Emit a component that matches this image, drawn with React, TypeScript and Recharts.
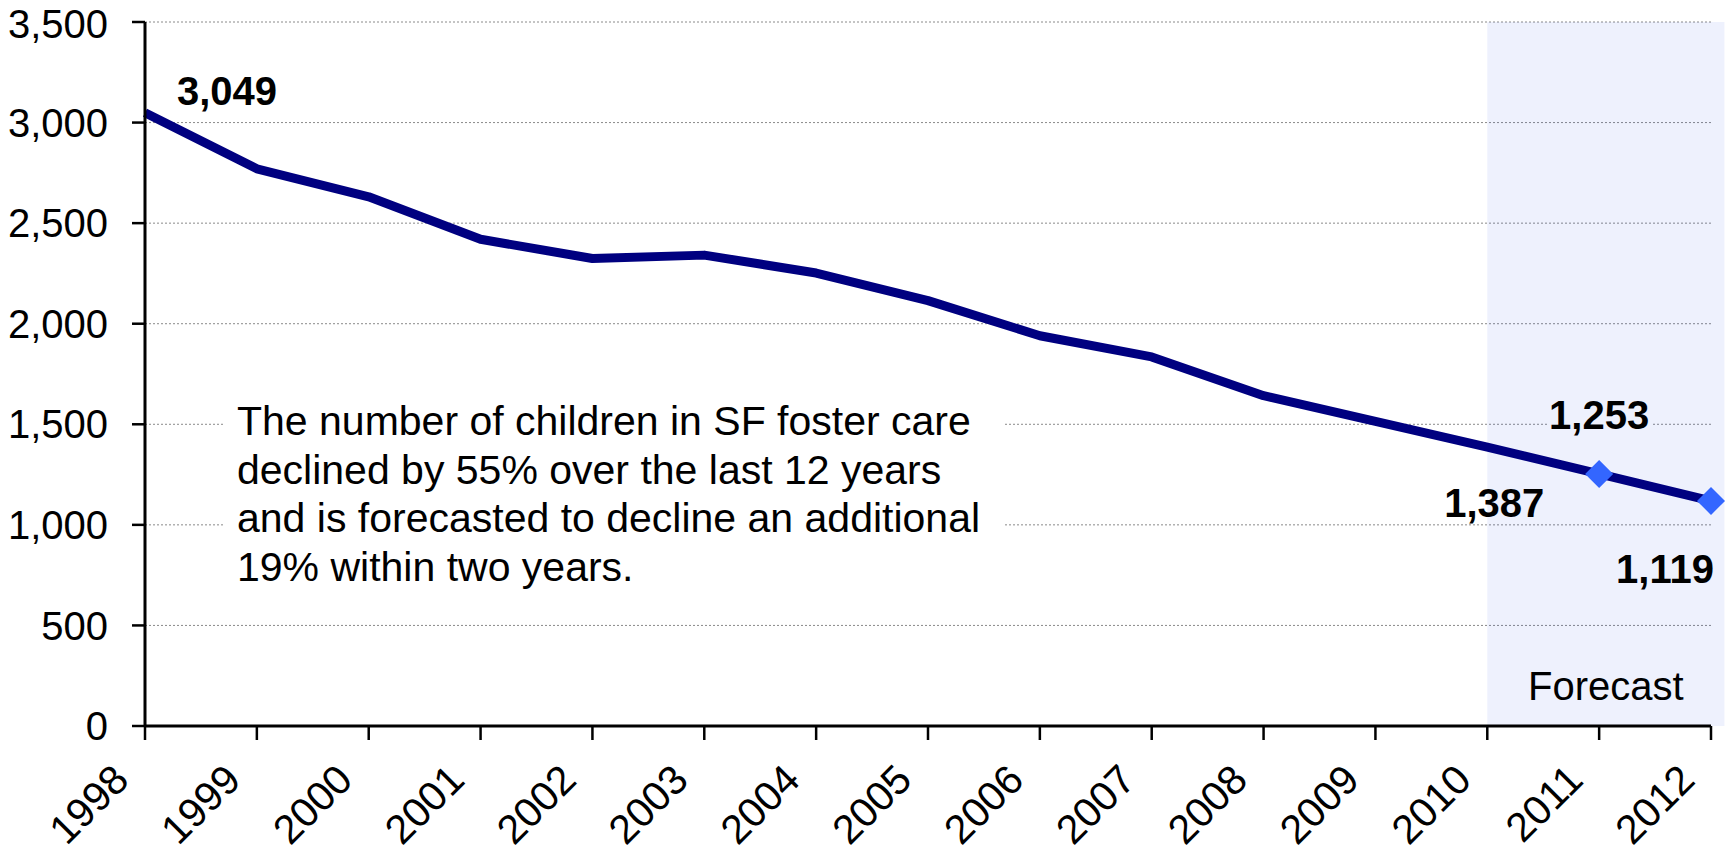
import React from 'react';
import { LineChart, Line, XAxis, YAxis, CartesianGrid, ReferenceArea, LabelList } from 'recharts';

// ---- data ----
const years = [1998, 1999, 2000, 2001, 2002, 2003, 2004, 2005, 2006, 2007, 2008, 2009, 2010, 2011, 2012];
const childrenInCare = [3049, 2770, 2631, 2420, 2324, 2341, 2252, 2115, 1940, 1835, 1642, 1515, 1387, 1253, 1119];
const forecastYears = [2011, 2012];
const labeledYears = [1998, 2010, 2011, 2012];
const yTicks = [0, 500, 1000, 1500, 2000, 2500, 3000, 3500];
const forecastStartYear = 2010;
const forecastText = 'Forecast';
const noteLines = [
  'The number of children in SF foster care',
  'declined by 55% over the last 12 years',
  'and is forecasted to decline an additional',
  '19% within two years.',
];

const data = years.map((year, i) => ({ year, value: childrenInCare[i] }));

// ---- styling ----
const FONT = "'Liberation Sans', Arial, Helvetica, sans-serif";
const LINE_COLOR = '#000080';
const MARKER_COLOR = '#3366FF';
const SHADE_BG = '#EEF1FD';
// label offsets (label centre relative to the point), keyed by year
const labelOffsets: Record<number, [number, number]> = {
  1998: [82, -22],
  2010: [7, 56],
  2011: [0, -59],
  2012: [-46, 68],
};

const fmt = (v: number) => v.toLocaleString('en-US');

const YearTick = (props: any) => {
  const { x, y, payload } = props;
  const ax = x - 14;
  const ay = y + 40;
  return (
    <text
      x={ax}
      y={ay}
      transform={`rotate(-45, ${ax}, ${ay})`}
      textAnchor="end"
      fontSize={41}
      fontFamily={FONT}
      fill="#000"
    >
      {payload.value}
    </text>
  );
};

const renderDot = (props: any) => {
  const { cx, cy, payload, index } = props;
  if (!forecastYears.includes(payload.year)) return <g key={`d-${index}`} />;
  const r = 14;
  return (
    <path
      key={`d-${index}`}
      d={`M${cx},${cy - r} L${cx + r},${cy} L${cx},${cy + r} L${cx - r},${cy} Z`}
      fill={MARKER_COLOR}
    />
  );
};

const renderLabel = (props: any) => {
  const { x, y, index } = props;
  const row = data[index];
  if (!row || !labeledYears.includes(row.year)) return null;
  const [dx, dy] = labelOffsets[row.year] || [0, -30];
  const cx = x + dx;
  const cy = y + dy;
  const text = fmt(row.value);
  const w = 104;
  const h = 34;
  const inForecast = forecastYears.includes(row.year);
  return (
    <g key={`l-${index}`}>
      {inForecast && <rect x={cx - w / 2} y={cy - h / 2} width={w} height={h} fill={SHADE_BG} />}
      <text
        x={cx}
        y={cy + 14}
        textAnchor="middle"
        fontSize={40}
        fontWeight="bold"
        fontFamily={FONT}
        fill="#000"
      >
        {text}
      </text>
    </g>
  );
};

export default function App() {
  return (
    <div style={{ position: 'absolute', left: 0, top: 0, width: 1729, height: 857, background: '#fff' }}>
      <LineChart
        width={1729}
        height={857}
        data={data}
        margin={{ top: 22, right: 18, left: 0, bottom: 0 }}
      >
        <CartesianGrid vertical={false} stroke="#8a8a8a" strokeDasharray="2 2" strokeWidth={1} />
        <ReferenceArea
          x1={forecastStartYear}
          x2={2012.12}
          y1={0}
          y2={3500}
          ifOverflow="visible"
          fill="#0c37e2"
          fillOpacity={0.07}
          stroke="none"
          label={{ value: forecastText, position: 'insideBottom', offset: 26, fontSize: 40, fill: '#000', fontFamily: FONT }}
        />
        <XAxis
          dataKey="year"
          type="number"
          domain={[1998, 2012]}
          ticks={years}
          interval={0}
          height={131}
          tickSize={14}
          tickMargin={2}
          tick={<YearTick />}
          axisLine={{ stroke: '#000', strokeWidth: 3 }}
          tickLine={{ stroke: '#000', strokeWidth: 2.5 }}
          allowDecimals={false}
        />
        <YAxis
          domain={[0, 3500]}
          ticks={yTicks}
          width={145}
          tickSize={13}
          tickMargin={24}
          tickFormatter={fmt}
          tick={{ fontSize: 40, fill: '#000', fontFamily: FONT }}
          axisLine={{ stroke: '#000', strokeWidth: 3 }}
          tickLine={{ stroke: '#000', strokeWidth: 2.5 }}
        />
        <Line
          type="linear"
          dataKey="value"
          stroke={LINE_COLOR}
          strokeWidth={9}
          strokeLinejoin="round"
          dot={renderDot}
          activeDot={false}
          isAnimationActive={false}
        >
          <LabelList dataKey="value" content={renderLabel} />
        </Line>
      </LineChart>
      <div
        style={{
          position: 'absolute',
          left: 225,
          top: 397,
          width: 780,
          height: 200,
          background: '#fff',
          paddingLeft: 12,
          boxSizing: 'border-box',
          fontFamily: FONT,
          fontSize: 41,
          lineHeight: '48.5px',
          color: '#000',
          whiteSpace: 'nowrap',
        }}
      >
        {noteLines.map((l) => (
          <div key={l}>{l}</div>
        ))}
      </div>
    </div>
  );
}
